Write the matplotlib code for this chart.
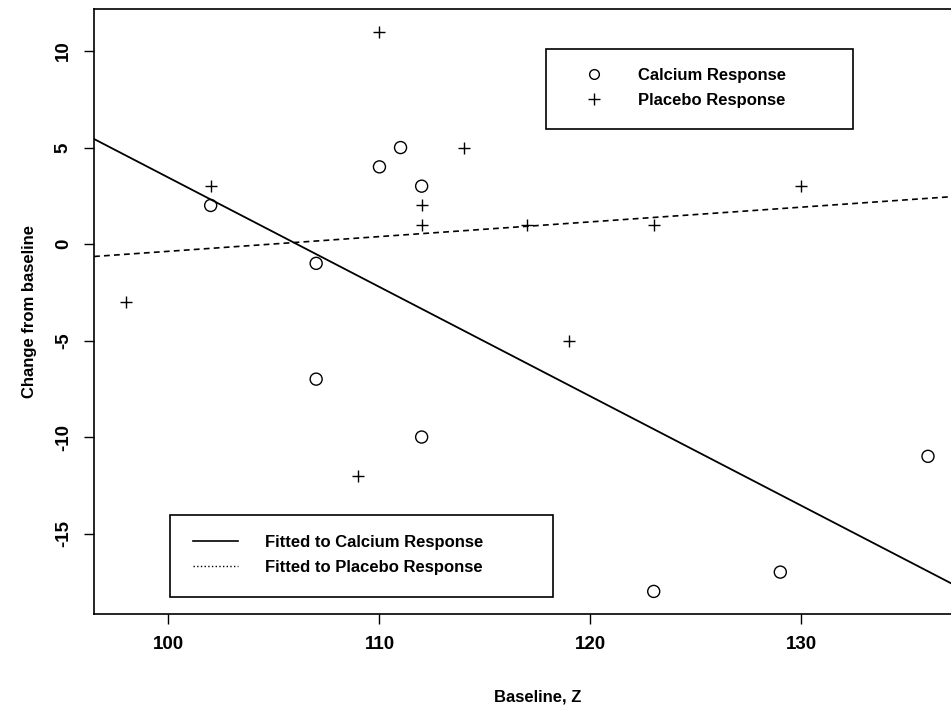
"""
Change from baseline vs baseline blood pressure, calcium vs placebo groups,
with least squares lines fitted to each group.
"""

import numpy as np
import matplotlib
matplotlib.use("Agg")
import matplotlib.pyplot as plt
from matplotlib.lines import Line2D
from matplotlib.patches import Rectangle

# data
calcium_baseline = [107, 110, 123, 129, 112, 111, 107, 112, 136, 102]
calcium_change = [-7, 4, -18, -17, 3, 5, -1, -10, -11, 2]
placebo_baseline = [123, 109, 112, 102, 98, 114, 119, 112, 110, 117, 130]
placebo_change = [1, -12, 1, 3, -3, 5, -5, 2, 11, 1, 3]

x_ticks = [100, 110, 120, 130]
y_ticks = [-15, -10, -5, 0, 5, 10]

plt.rcParams["font.family"] = ["Liberation Sans", "DejaVu Sans"]
plt.rcParams["font.weight"] = "bold"
plt.rcParams["axes.unicode_minus"] = False

W, H = 951, 712
fig = plt.figure(figsize=(W / 100, H / 100), dpi=100)


def fx(px):
    return px / W


def fy(py):
    return 1 - py / H


ax = fig.add_axes([fx(94), fy(614), fx(982) - fx(94), fy(9) - fy(614)])

ax.scatter(calcium_baseline, calcium_change, s=75, facecolors="none",
           edgecolors="black", linewidths=1.0, zorder=3)
ax.scatter(placebo_baseline, placebo_change, s=85, marker="+",
           color="black", linewidths=1.0, zorder=3)

xlim = (96.47, 138.56)
xs = np.array(xlim)
cal_fit = np.polyfit(calcium_baseline, calcium_change, 1)
pla_fit = np.polyfit(placebo_baseline, placebo_change, 1)
ax.plot(xs, np.polyval(cal_fit, xs), color="black", lw=1.3)
ax.plot(xs, np.polyval(pla_fit, xs), color="black", lw=1.2, dashes=(3.5, 2.5))

ax.set_xlim(*xlim)
ax.set_ylim(-19.17, 12.18)
ax.set_xticks(x_ticks)
ax.set_yticks(y_ticks)
ax.tick_params(direction="out", length=7, width=1.0, labelsize=13.5, pad=9)
ax.tick_params(axis="y", labelrotation=90)
for lab in ax.get_yticklabels():
    lab.set_verticalalignment("center")
for sp in ax.spines.values():
    sp.set_linewidth(1.2)

fig.text(fx(538), fy(697), "Baseline, Z", ha="center", va="center",
         fontsize=12, fontweight="bold")
fig.text(fx(30), fy(311), "Change from baseline", ha="center", va="center",
         rotation=90, fontsize=12, fontweight="bold")

# legend boxes
for x0, y0, x1, y1 in [(546, 49, 853, 129), (170, 515, 553, 597)]:
    fig.patches.append(Rectangle((fx(x0), fy(y1)), fx(x1) - fx(x0), fy(y0) - fy(y1),
                                 transform=fig.transFigure, fill=False,
                                 edgecolor="black", lw=1.2))

pts_handles = [
    Line2D([], [], ls="none", marker="o", mfc="none", mec="black", ms=7, mew=1.0),
    Line2D([], [], ls="none", marker="+", color="black", ms=9, mew=1.0),
]
leg1 = fig.legend(pts_handles, ["Calcium Response", "Placebo Response"],
                  loc="center left", bbox_to_anchor=(fx(586), fy(88)),
                  frameon=False, fontsize=12, handlelength=1.0,
                  handletextpad=2.1, labelspacing=0.6,
                  borderpad=0, borderaxespad=0)

line_handles = [
    Line2D([], [], color="black", lw=1.2),
    Line2D([], [], color="black", lw=1.0, ls=":"),
]
leg2 = fig.legend(line_handles, ["Fitted to Calcium Response", "Fitted to Placebo Response"],
                  loc="center left", bbox_to_anchor=(fx(193), fy(555)),
                  frameon=False, fontsize=12, handlelength=2.7,
                  handletextpad=1.6, labelspacing=0.6,
                  borderpad=0, borderaxespad=0)

fig.savefig("out.png", dpi=100)
plt.close(fig)
